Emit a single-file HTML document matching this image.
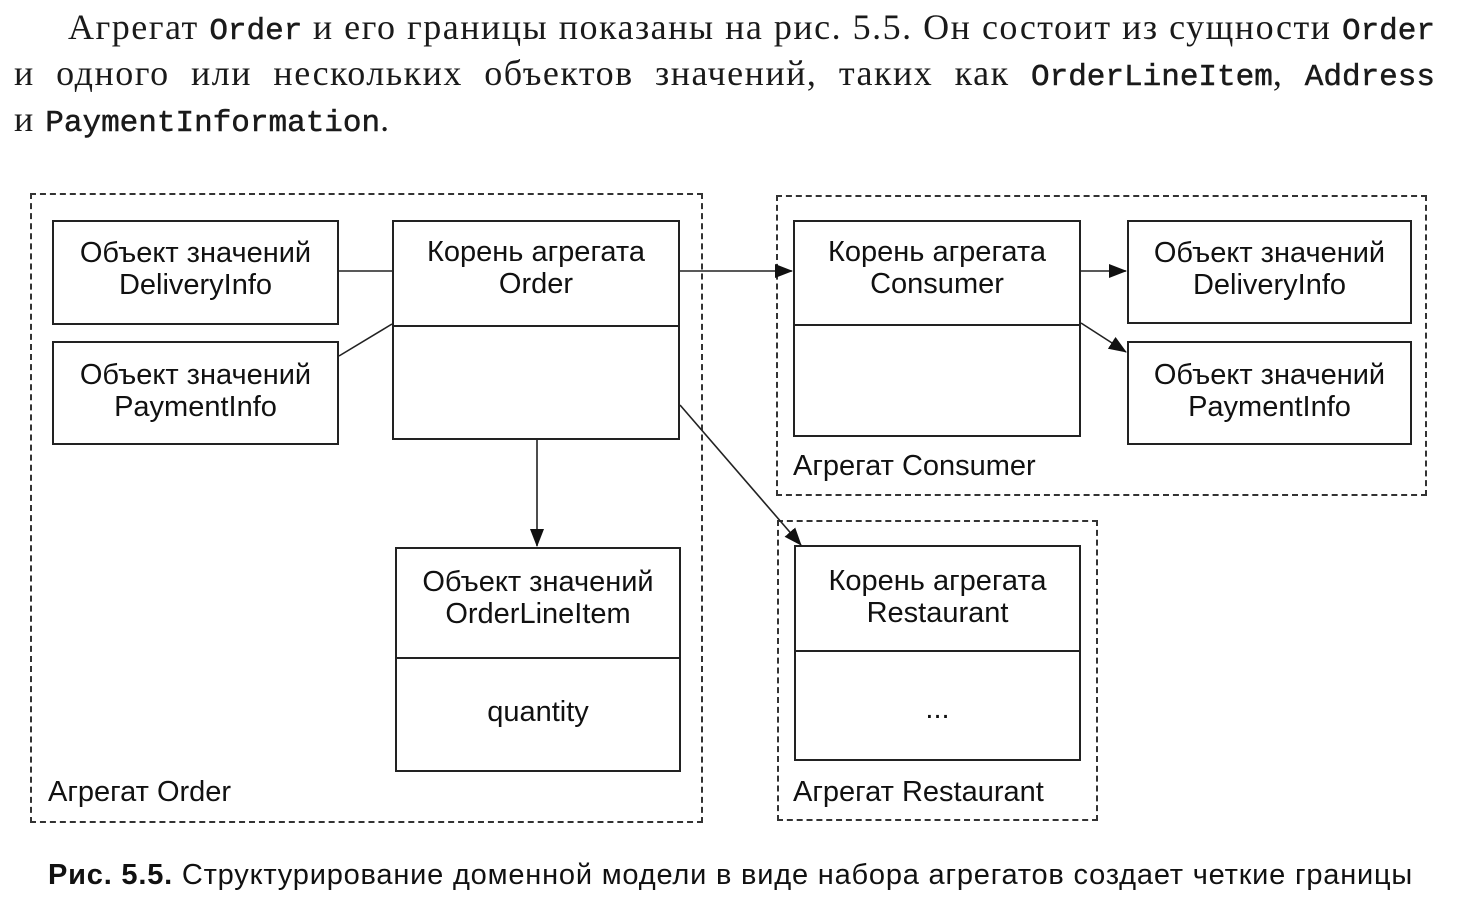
<!DOCTYPE html>
<html><head><meta charset="utf-8"><style>
body{margin:0;background:#fff;width:1461px;height:912px;position:relative;overflow:hidden;font-family:"Liberation Sans",sans-serif;color:#111}
.p{position:absolute;left:14px;width:1421px;font-family:"Liberation Serif","Noto Serif CJK SC",serif;font-size:36px;letter-spacing:1.5px;white-space:nowrap;color:#1a1a1a}
.j{text-align:justify;text-align-last:justify}
.m{font-family:"Liberation Mono",monospace;font-size:31px;letter-spacing:0;-webkit-text-stroke:0.5px #1a1a1a}
.b{position:absolute;border:2px solid #222;box-sizing:border-box}
.d{position:absolute;border:2px dashed #333;box-sizing:border-box}
.t{position:absolute;text-align:center;font-size:29px;line-height:32px;width:100%}
.l{position:absolute;font-size:29px;white-space:nowrap}
.hr{position:absolute;left:0;right:0;border-top:2px solid #222}
</style></head><body>
<div class="p j" style="left:68px;width:1367px;top:6px">Агрегат <span class="m">Order</span> и его границы показаны на рис. 5.5. Он состоит из сущности <span class="m">Order</span></div>
<div class="p j" style="top:52px">и одного или нескольких объектов значений, таких как <span class="m">OrderLineItem</span>, <span class="m">Address</span></div>
<div class="p" style="top:98px">и <span class="m">PaymentInformation</span>.</div>

<div class="d" style="left:30px;top:193px;width:673px;height:630px"></div>
<div class="d" style="left:776px;top:195px;width:651px;height:301px"></div>
<div class="d" style="left:777px;top:520px;width:321px;height:301px"></div>

<div class="b" style="left:52px;top:220px;width:287px;height:105px"><div class="t" style="top:15px">Объект значений<br>DeliveryInfo</div></div>
<div class="b" style="left:52px;top:341px;width:287px;height:104px"><div class="t" style="top:16px">Объект значений<br>PaymentInfo</div></div>
<div class="b" style="left:392px;top:220px;width:288px;height:220px"><div class="t" style="top:14px">Корень агрегата<br>Order</div><div class="hr" style="top:103px"></div></div>
<div class="b" style="left:395px;top:547px;width:286px;height:225px"><div class="t" style="top:17px">Объект значений<br>OrderLineItem</div><div class="hr" style="top:108px"></div><div class="t" style="top:147px">quantity</div></div>
<div class="b" style="left:793px;top:220px;width:288px;height:217px"><div class="t" style="top:14px">Корень агрегата<br>Consumer</div><div class="hr" style="top:102px"></div></div>
<div class="b" style="left:1127px;top:220px;width:285px;height:104px"><div class="t" style="top:15px">Объект значений<br>DeliveryInfo</div></div>
<div class="b" style="left:1127px;top:341px;width:285px;height:104px"><div class="t" style="top:16px">Объект значений<br>PaymentInfo</div></div>
<div class="b" style="left:794px;top:545px;width:287px;height:216px"><div class="t" style="top:18px">Корень агрегата<br>Restaurant</div><div class="hr" style="top:103px"></div><div class="t" style="top:146px">...</div></div>

<div class="l" style="left:48px;top:776px">Агрегат Order</div>
<div class="l" style="left:793px;top:450px">Агрегат Consumer</div>
<div class="l" style="left:793px;top:776px">Агрегат Restaurant</div>

<svg width="1461" height="912" style="position:absolute;left:0;top:0">
<defs><marker id="b" markerWidth="18" markerHeight="14" refX="17" refY="7" orient="auto" markerUnits="userSpaceOnUse"><path d="M0,0 L18,7 L0,14 z" fill="#111"/></marker></defs>
<g stroke="#222" stroke-width="1.6" fill="none">
<line x1="339" y1="271" x2="392" y2="271"/>
<line x1="339" y1="356" x2="392" y2="324"/>
<line x1="680" y1="271" x2="792" y2="271" marker-end="url(#b)"/>
<line x1="537" y1="440" x2="537" y2="546" marker-end="url(#b)"/>
<line x1="680" y1="405" x2="801" y2="545" marker-end="url(#b)"/>
<line x1="1081" y1="271" x2="1126" y2="271" marker-end="url(#b)"/>
<line x1="1081" y1="323" x2="1126" y2="352" marker-end="url(#b)"/>
</g></svg>

<div style="position:absolute;left:48px;top:859px;font-size:29px;letter-spacing:0.8px;white-space:nowrap"><b>Рис. 5.5.</b> Структурирование доменной модели в виде набора агрегатов создает четкие границы</div>
</body></html>
